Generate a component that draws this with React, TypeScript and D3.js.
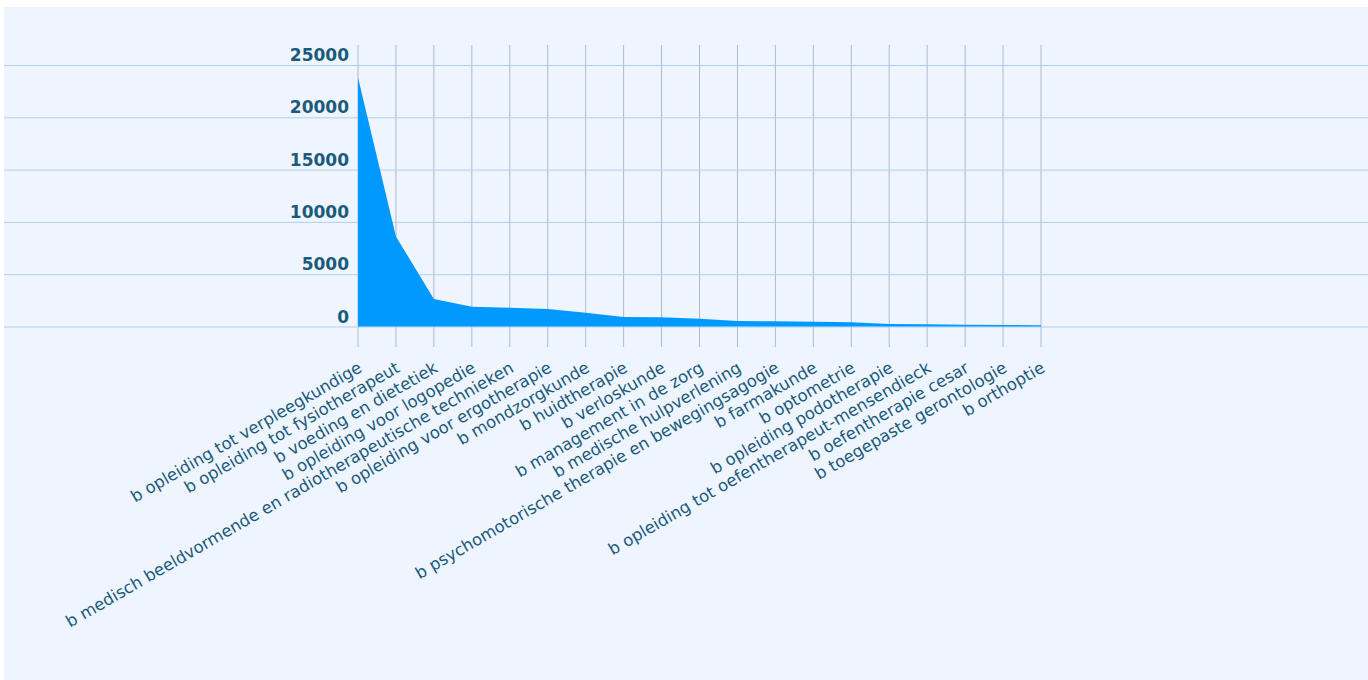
import React from 'react';
import * as d3 from 'd3';

const categories = [
  'b opleiding tot verpleegkundige',
  'b opleiding tot fysiotherapeut',
  'b voeding en dietetiek',
  'b opleiding voor logopedie',
  'b medisch beeldvormende en radiotherapeutische technieken',
  'b opleiding voor ergotherapie',
  'b mondzorgkunde',
  'b huidtherapie',
  'b verloskunde',
  'b management in de zorg',
  'b medische hulpverlening',
  'b psychomotorische therapie en bewegingsagogie',
  'b farmakunde',
  'b optometrie',
  'b opleiding podotherapie',
  'b opleiding tot oefentherapeut-mensendieck',
  'b oefentherapie cesar',
  'b toegepaste gerontologie',
  'b orthoptie',
];

const students = [
  23800, 8600, 2630, 1900, 1800, 1680, 1320, 910, 880, 750,
  530, 500, 460, 400, 240, 210, 170, 140, 120,
];

const yTicks = [0, 5000, 10000, 15000, 20000, 25000];

const W = 1368;
const H = 680;
const margin = { top: 65, left: 358, right: 1041, bottom: 326.5 };

const textColor = '#1c5a7b';
const fontFamily = '"DejaVu Sans", sans-serif';

export default function App() {
  const x = d3.scalePoint<string>().domain(categories).range([margin.left, margin.right]);
  const y = d3.scaleLinear().domain([0, 25000]).range([margin.bottom, margin.top]);

  const area = d3
    .area<number>()
    .x((_, i) => x(categories[i]) ?? 0)
    .y0(y(0))
    .y1((d) => y(d))
    .curve(d3.curveLinear);

  return (
    <svg
      width={W}
      height={H}
      style={{ position: 'absolute', left: 0, top: 0, display: 'block' }}
    >
      <rect x={4} y={7} width={W - 4} height={H - 7} fill="#eef5fe" />

      {/* vertical grid */}
      {categories.map((c) => (
        <line
          key={'v' + c}
          x1={x(c)}
          x2={x(c)}
          y1={45}
          y2={347}
          stroke="#a9bbd4"
          strokeWidth={1}
        />
      ))}

      {/* horizontal grid */}
      {yTicks.map((t) => (
        <line
          key={'h' + t}
          x1={4}
          x2={W}
          y1={y(t) + 0.5}
          y2={y(t) + 0.5}
          stroke="#aed0f4"
          strokeWidth={1}
        />
      ))}

      <path d={area(students) ?? ''} fill="#0099ff" />

      {/* y tick labels */}
      {yTicks.map((t) => (
        <text
          key={'yl' + t}
          x={349}
          y={y(t) - 10}
          textAnchor="end"
          dominantBaseline="central"
          fontFamily={fontFamily}
          fontWeight={600}
          fontSize={17}
          fill={textColor}
        >
          {t}
        </text>
      ))}

      {/* x tick labels */}
      {categories.map((c) => (
        <text
          key={'xl' + c}
          transform={`translate(${(x(c) ?? 0) + 5}, 371) rotate(-30)`}
          textAnchor="end"
          fontFamily={fontFamily}
          fontSize={16.5}
          fill={textColor}
        >
          {c}
        </text>
      ))}
    </svg>
  );
}
